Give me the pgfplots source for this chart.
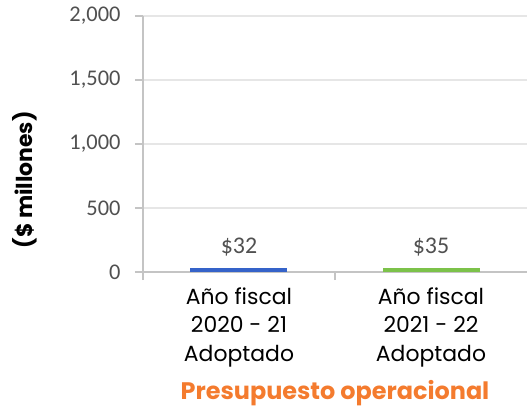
\documentclass[border=0pt]{standalone}
\usepackage{pgfplots}
\pgfplotsset{compat=1.18}
\usepackage{fontspec}
\setmainfont{Poppins}
\newfontfamily\carl{Carlito}
\definecolor{axisgray}{HTML}{C4C4C4}
\definecolor{gridgray}{HTML}{E6E6E6}
\definecolor{tickgray}{HTML}{505050}
\definecolor{barblue}{HTML}{3563C9}
\definecolor{bargreen}{HTML}{7CC24A}
\definecolor{orangetitle}{HTML}{F47B2E}

\begin{document}
\begin{tikzpicture}
\useasboundingbox (-143bp,-136bp) rectangle (384bp,272bp);
\begin{axis}[
    at={(0,0)}, anchor=south west,
    scale only axis,
    width=384bp, height=256bp,
    xmin=-0.5, xmax=1.5,
    ymin=0, ymax=2000,
    ytick={0,500,1000,1500,2000},
    scaled y ticks=false,
    /pgf/number format/assume math mode=true,
    axis x line=bottom, axis y line=left,
    axis line style={-, draw=axisgray, line width=1.2bp},
    ymajorgrids, grid style={gridgray, line width=1.5bp},
    y tick style={draw=axisgray, line width=1.2bp},
    tick align=outside, major tick length=8bp,
    yticklabel style={font=\carl\fontsize{22.5}{22}\selectfont, text=tickgray, xshift=-11bp},
    xtick={0,1},
    x tick style={draw=none},
    xticklabels={{Año fiscal\\2020 - 21\\Adoptado},{Año fiscal\\2021 - 22\\Adoptado}},
    xticklabel style={font=\fontsize{22}{28.5}\selectfont, align=center, yshift=-4bp},
    extra x ticks={-0.5,0.5},
    extra x tick labels={},
    extra x tick style={x tick style={draw=axisgray, line width=1.2bp}, grid=none},
    ybar, bar width=97bp,
    nodes near coords={\$\pgfmathprintnumber{\pgfplotspointmeta}},
    every node near coord/.append style={font=\carl\fontsize{24}{24}\selectfont, text=tickgray, yshift=8bp},
    ylabel={(\$ millones)},
    ylabel style={font=\bfseries\fontsize{22}{22}\selectfont, at={(axis description cs:-0.308,0.36)}, anchor=center},
    xlabel={Presupuesto operacional},
    xlabel style={font=\bfseries\fontsize{24}{24}\selectfont, text=orangetitle, at={(axis description cs:0.5,-0.475)}, anchor=center},
    clip=false,
]
\addplot[fill=barblue, draw=none, bar shift=0pt] coordinates {(0,32)};
\addplot[fill=bargreen, draw=none, bar shift=0pt] coordinates {(1,35)};
\end{axis}
\end{tikzpicture}
\end{document}
